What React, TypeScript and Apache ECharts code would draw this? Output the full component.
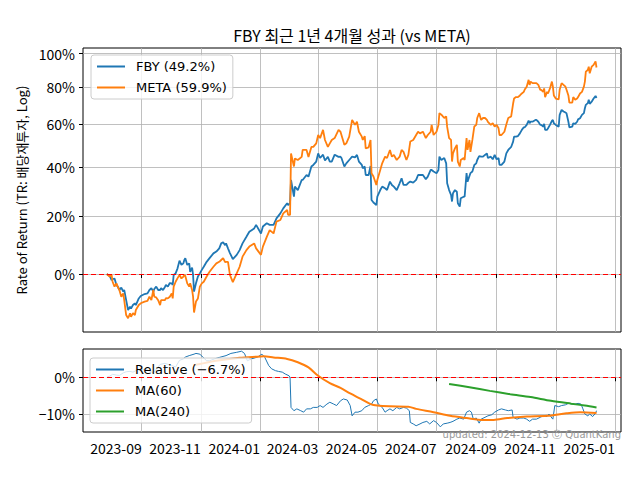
import React, { useEffect, useRef } from 'react';
import * as echarts from 'echarts';

// ---------- DATA ----------
const titleText = 'FBY 최근 1년 4개월 성과 (vs META)';
const yAxisTitle = 'Rate of Return (TR: 배당재투자, Log)';
const footerText = 'updated: 2024-12-13 ⓒ QuantKang';
const fbyName = 'FBY (49.2%)';
const metaName = 'META (59.9%)';
const relName = 'Relative (−6.7%)';
const ma60Name = 'MA(60)';
const ma240Name = 'MA(240)';

const xTickLabels = ['2023-09', '2023-11', '2024-01', '2024-03', '2024-05', '2024-07', '2024-09', '2024-11', '2025-01'];
const topTickPct = [0, 20, 40, 60, 80, 100];
const bottomTickPct = [-10, 0];

const dates = [
  '2023-07-27','2023-07-30','2023-08-01','2023-08-02','2023-08-04','2023-08-06','2023-08-08','2023-08-09','2023-08-11','2023-08-13',
  '2023-08-14','2023-08-16','2023-08-18','2023-08-20','2023-08-21','2023-08-23','2023-08-25','2023-08-26','2023-08-29','2023-08-31',
  '2023-09-04','2023-09-07','2023-09-09','2023-09-11','2023-09-13','2023-09-14','2023-09-16','2023-09-18','2023-09-20','2023-09-21',
  '2023-09-23','2023-09-25','2023-09-26','2023-09-28','2023-09-30','2023-10-02','2023-10-03','2023-10-04','2023-10-06','2023-10-08',
  '2023-10-10','2023-10-12','2023-10-14','2023-10-15','2023-10-16','2023-10-18','2023-10-20','2023-10-21','2023-10-23','2023-10-24',
  '2023-10-25','2023-10-27','2023-10-29','2023-10-31','2023-11-02','2023-11-04','2023-11-07','2023-11-10','2023-11-14','2023-11-17',
  '2023-11-20','2023-11-22','2023-11-24','2023-11-26','2023-11-27','2023-11-29','2023-12-01','2023-12-04','2023-12-08','2023-12-11',
  '2023-12-14','2023-12-18','2023-12-21','2023-12-26','2023-12-28','2024-01-02','2024-01-04','2024-01-08','2024-01-11','2024-01-15',
  '2024-01-18','2024-01-22','2024-01-25','2024-01-29','2024-01-30','2024-02-01','2024-02-02','2024-02-05','2024-02-06','2024-02-09',
  '2024-02-13','2024-02-14','2024-02-18','2024-02-20','2024-02-23','2024-02-25','2024-02-28','2024-03-01','2024-03-03','2024-03-06',
  '2024-03-08','2024-03-11','2024-03-13','2024-03-15','2024-03-18','2024-03-22','2024-03-24','2024-03-25','2024-03-28','2024-03-30',
  '2024-04-02','2024-04-05','2024-04-08','2024-04-10','2024-04-12','2024-04-15','2024-04-16','2024-04-18','2024-04-19','2024-04-22',
  '2024-04-24','2024-04-25','2024-04-27','2024-04-30','2024-05-01','2024-05-04','2024-05-06','2024-05-09','2024-05-11','2024-05-14',
  '2024-05-16','2024-05-18','2024-05-21','2024-05-24','2024-05-26','2024-05-28','2024-05-31','2024-06-02','2024-06-04','2024-06-07',
  '2024-06-10','2024-06-12','2024-06-14','2024-06-17','2024-06-20','2024-06-22','2024-06-25','2024-06-26','2024-06-28','2024-07-01',
  '2024-07-03','2024-07-04','2024-07-06','2024-07-09','2024-07-11','2024-07-12','2024-07-14','2024-07-16','2024-07-17','2024-07-18',
  '2024-07-20','2024-07-22','2024-07-23','2024-07-25','2024-07-26','2024-07-29','2024-07-30','2024-08-01','2024-08-02','2024-08-04',
  '2024-08-05','2024-08-07','2024-08-09','2024-08-11','2024-08-12','2024-08-14','2024-08-16','2024-08-18','2024-08-20','2024-08-22',
  '2024-08-23','2024-08-26','2024-08-28','2024-08-30','2024-09-01','2024-09-03','2024-09-04','2024-09-06','2024-09-09','2024-09-11',
  '2024-09-13','2024-09-16','2024-09-18','2024-09-19','2024-09-21','2024-09-23','2024-09-25','2024-09-27','2024-09-29','2024-09-30',
  '2024-10-02','2024-10-04','2024-10-05','2024-10-06','2024-10-08','2024-10-11','2024-10-12','2024-10-14','2024-10-16','2024-10-17',
  '2024-10-19','2024-10-20','2024-10-21','2024-10-23','2024-10-24','2024-10-26','2024-10-28','2024-10-29','2024-10-30','2024-11-01',
  '2024-11-04','2024-11-05','2024-11-07','2024-11-09','2024-11-11','2024-11-12','2024-11-14','2024-11-15','2024-11-18','2024-11-19',
  '2024-11-21','2024-11-23','2024-11-24','2024-11-26','2024-11-28','2024-11-30','2024-12-01','2024-12-02','2024-12-04','2024-12-05',
  '2024-12-06','2024-12-08','2024-12-10','2024-12-12','2024-12-13'
];

const fbyReturn = [
  0,-0.6,-1.9,-1.6,-1.4,-3.4,-4.2,-4.9,-4.2,-5.4,
  -4.9,-7.9,-10.7,-9.8,-10.3,-9.3,-8.8,-9.3,-7.4,-6.7,
  -6.1,-5.9,-4.9,-4.4,-5.4,-4.6,-3.9,-4.9,-4.9,-4.4,
  -4.9,-4.0,-3.4,-3.9,-2.8,-2.9,-3.4,-0.3,0.2,1.8,
  4.3,2.9,3.4,4.5,5.1,2.9,3.4,0.7,2.0,-0.3,
  -5.4,-2.9,-0.8,0.2,1.3,2.3,3.9,5.1,6.7,7.3,
  8.4,10.1,10.5,9.5,10.1,8.4,6.8,4.8,6.2,7.8,
  10.1,12.4,14.2,15.4,16.7,13.6,16.1,17.3,16.7,16.7,
  19.1,21.0,22.9,24.9,24.2,25.0,34.4,27.5,31.6,30.2,
  34.4,34.4,36.5,35.8,40.2,40.9,42.4,46.1,44.0,45.5,
  42.9,44.5,42.4,42.4,45.5,44.5,44.6,44.0,40.2,41.6,
  43.1,44.6,44.3,45.4,42.4,40.9,39.4,40.2,36.5,36.5,
  40.4,26.2,25.2,24.2,27.5,30.2,31.6,30.9,30.2,33.7,
  32.3,31.6,30.2,33.0,35.1,32.3,32.3,33.2,33.7,33.3,
  34.4,36.5,36.5,36.5,34.7,35.8,38.7,38.7,38.0,37.3,
  38.7,44.6,43.1,44.0,41.6,33.0,30.2,28.2,25.6,28.9,
  30.2,29.5,24.9,23.6,26.9,27.5,27.5,37.3,33.7,36.1,
  37.3,38.0,40.9,41.6,43.1,44.9,44.6,44.6,45.4,46.1,
  44.0,44.6,43.4,45.4,43.4,44.0,40.9,40.9,42.4,46.1,
  47.7,49.1,51.6,54.0,54.0,54.3,55.6,57.3,58.6,58.6,
  59.8,62.0,60.6,61.4,61.4,62.3,62.3,61.4,59.8,59.8,
  58.9,60.3,57.3,57.3,58.1,59.8,61.8,62.3,60.6,59.8,
  58.9,64.9,67.5,66.7,66.1,65.8,61.4,58.6,58.9,60.6,
  60.3,61.4,62.6,63.2,64.9,65.8,68.4,70.2,71.1,72.9,
  70.7,71.9,73.6,75.0,73.9
];

const metaReturn = [
  0,-0.8,-0.3,-2.4,-3.9,-2.9,-4.4,-4.9,-6.9,-5.9,
  -7.9,-12.1,-13.0,-11.6,-12.6,-11.6,-12.1,-10.7,-9.3,-8.8,
  -8.3,-8.1,-6.9,-7.9,-4.9,-6.9,-7.1,-7.9,-9.3,-7.9,
  -7.9,-7.9,-7.3,-7.4,-6.9,-5.9,-7.4,-3.9,-2.4,-1.3,
  -0.3,-1.4,-0.8,-0.3,-0.6,-2.9,-3.9,-2.9,-4.9,-6.9,
  -11.4,-8.3,-7.4,-3.9,-2.9,-2.4,-0.8,0.7,2.3,3.4,
  3.9,4.5,5.1,3.8,3.9,3.9,-0.3,-2.5,0.2,2.3,
  5.6,7.8,9.0,10.1,8.4,6.2,9.0,12.4,14.8,13.6,
  17.9,18.5,21.0,22.3,20.4,20.4,46.1,40.2,43.8,43.1,
  44.5,47.7,47.7,44.5,49.1,49.1,50.8,54.8,53.3,57.3,
  52.4,49.1,50.8,52.4,53.3,57.3,56.4,54.8,50.1,50.8,
  54.0,62.3,59.8,61.4,56.4,54.0,52.4,54.3,48.4,48.9,
  52.4,37.3,35.9,32.3,34.4,38.7,41.6,44.6,44.0,47.7,
  44.6,45.4,43.1,44.6,47.7,46.8,43.1,45.4,51.7,52.4,
  54.8,56.4,55.6,56.4,53.3,54.8,56.4,59.8,54.8,56.4,
  59.8,65.8,65.0,63.3,64.1,58.8,53.3,52.4,42.4,46.1,
  48.4,50.1,42.4,40.2,43.1,44.0,43.1,53.3,47.7,52.4,
  46.8,52.4,59.0,59.8,63.3,65.8,62.3,63.3,63.3,62.3,
  61.3,59.8,60.6,59.0,59.8,58.1,54.8,54.8,56.4,60.0,
  63.3,64.1,70.9,73.6,74.4,74.4,75.3,76.4,77.3,78.6,
  80.2,84.1,81.2,83.1,82.2,82.2,82.2,81.2,78.4,78.4,
  77.3,79.2,74.4,77.3,76.4,79.2,83.1,80.2,75.3,73.6,
  73.1,78.4,82.2,81.2,80.2,78.6,75.3,71.4,71.4,74.4,
  72.9,73.6,74.4,76.4,77.3,80.2,83.1,88.9,89.9,91.9,
  87.9,91.9,93.0,95.1,91.4
];

const relDates = [
  '2023-07-27','2023-07-30','2023-08-02','2023-08-06','2023-08-09','2023-08-13','2023-08-16','2023-08-20','2023-08-23','2023-08-26',
  '2023-08-31','2023-09-07','2023-09-13','2023-09-20','2023-09-25','2023-10-02','2023-10-06','2023-10-10','2023-10-14','2023-10-16',
  '2023-10-20','2023-10-25','2023-10-27','2023-10-31','2023-11-03','2023-11-07','2023-11-10','2023-11-15','2023-11-20','2023-11-27',
  '2023-12-02','2023-12-08','2023-12-13','2023-12-16','2023-12-19','2023-12-23','2023-12-27','2023-12-30','2024-01-03','2024-01-06',
  '2024-01-10','2024-01-13','2024-01-17','2024-01-20','2024-01-24','2024-01-27','2024-01-31','2024-02-01','2024-02-02','2024-02-05',
  '2024-02-08','2024-02-12','2024-02-15','2024-02-18','2024-02-22','2024-02-25','2024-02-29','2024-03-03','2024-03-06','2024-03-10',
  '2024-03-13','2024-03-17','2024-03-20','2024-03-24','2024-03-27','2024-03-31','2024-04-03','2024-04-05','2024-04-08','2024-04-11',
  '2024-04-15','2024-04-18','2024-04-22','2024-04-25','2024-04-27','2024-04-30','2024-05-02','2024-05-06','2024-05-09','2024-05-11',
  '2024-05-14','2024-05-17','2024-05-21','2024-05-24','2024-05-28','2024-05-31','2024-06-03','2024-06-04','2024-06-07','2024-06-10',
  '2024-06-14','2024-06-17','2024-06-21','2024-06-24','2024-06-28','2024-07-01','2024-07-05','2024-07-08','2024-07-12','2024-07-15',
  '2024-07-18','2024-07-22','2024-07-25','2024-07-29','2024-08-01','2024-08-04','2024-08-06','2024-08-08','2024-08-11','2024-08-14',
  '2024-08-16','2024-08-20','2024-08-23','2024-08-27','2024-08-30','2024-09-03','2024-09-06','2024-09-10','2024-09-13','2024-09-17',
  '2024-09-18','2024-09-22','2024-09-25','2024-09-29','2024-10-02','2024-10-05','2024-10-08','2024-10-12','2024-10-16','2024-10-19',
  '2024-10-23','2024-10-25','2024-10-28','2024-10-29','2024-10-31','2024-11-04','2024-11-07','2024-11-11','2024-11-14','2024-11-18',
  '2024-11-21','2024-11-24','2024-11-27','2024-11-29','2024-12-01','2024-12-04','2024-12-06','2024-12-09','2024-12-12','2024-12-13'
];

const relative = [
  0,0.3,0.8,0.6,0.5,1.2,1.5,1.6,1.4,1.8,
  2.2,2.0,1.2,3.5,3.8,3.2,2.8,4.6,5.0,5.5,
  5.9,6.3,6.5,6.3,5.5,4.5,4.5,5.0,5.4,5.9,
  6.5,6.8,7.1,6.5,4.5,5.0,5.3,5.6,6.3,5.4,
  3.2,2.3,1.8,1.6,1.4,0.9,0.4,0.0,-8.2,-9.1,
  -8.6,-9.1,-9.5,-8.6,-8.6,-8.2,-8.2,-7.7,-8.2,-7.3,
  -6.8,-7.3,-7.7,-6.4,-5.9,-6.2,-7.7,-10.5,-9.5,-9.5,
  -9.1,-8.2,-7.7,-7.3,-6.4,-5.9,-7.3,-8.2,-9.5,-9.1,
  -8.6,-9.1,-8.2,-8.6,-8.2,-8.4,-9.1,-12.3,-12.7,-13.2,
  -12.7,-12.3,-12.0,-12.7,-11.8,-12.3,-13.5,-12.7,-12.5,-12.3,
  -12.0,-11.4,-11.1,-11.4,-9.5,-9.1,-9.5,-11.4,-11.1,-12.5,
  -11.4,-10.9,-10.5,-10.2,-9.5,-8.9,-8.6,-8.9,-9.1,-8.9,
  -10.9,-11.4,-11.1,-11.1,-11.4,-12.0,-11.4,-11.4,-10.9,-10.5,
  -10.7,-10.0,-11.1,-11.4,-7.7,-8.0,-7.7,-7.5,-7.1,-7.3,
  -7.3,-7.1,-7.3,-8.6,-10.0,-10.5,-10.0,-10.7,-9.8,-9.1
];

const ma60Dates = [
  '2023-10-24','2023-10-31','2023-11-17','2023-12-11','2023-12-28','2024-01-05','2024-01-15','2024-01-29','2024-02-09','2024-02-20',
  '2024-03-01','2024-03-13','2024-03-24','2024-04-03','2024-04-14','2024-04-24','2024-05-01','2024-05-14','2024-06-02','2024-06-10',
  '2024-06-28','2024-07-15','2024-08-01','2024-08-18','2024-08-29','2024-09-12','2024-10-02','2024-10-23','2024-11-12','2024-11-26',
  '2024-12-13'
];
const ma60 = [
  3.2,3.6,4.5,5.3,5.6,5.7,5.4,5.0,4.1,2.7,
  0.4,-1.6,-2.9,-4.4,-5.9,-7.3,-7.7,-7.9,-8.0,-8.6,
  -9.5,-10.5,-11.1,-11.6,-11.6,-11.1,-10.7,-10.5,-9.8,-9.5,
  -9.7
];

const ma240Dates = ['2024-07-14','2024-08-04','2024-08-25','2024-09-15','2024-10-06','2024-10-27','2024-11-17','2024-12-01','2024-12-13'];
const ma240 = [-1.8,-2.7,-3.7,-4.6,-5.4,-6.4,-7.2,-7.7,-8.2];

// ---------- HELPERS ----------
const ts = (s: string) => {
  const [y, m, d] = s.split('-').map(Number);
  return new Date(y, m - 1, d || 1).getTime();
};
const toLog = (p: number) => Math.log(1 + p / 100);

const CJK = '"Noto Sans CJK KR", sans-serif';
const LAT = '"DejaVu Sans", sans-serif';

export default function App() {
  const ref = useRef<HTMLDivElement>(null);

  useEffect(() => {
    if (!ref.current) return;
    const chart = echarts.init(ref.current, null, { renderer: 'svg' });

    const xTicks = xTickLabels.map((l) => ts(l + '-01'));
    const xMin = new Date(2023, 6, 2, 12).getTime();
    const xMax = new Date(2025, 0, 7, 6).getTime();
    const topTicks = topTickPct.map(toLog);

    const zeroLine = {
      silent: true,
      symbol: 'none',
      label: { show: false },
      lineStyle: { color: '#ff0000', type: [5, 3], width: 1.2 },
      emphasis: { disabled: true },
      data: [{ yAxis: 0 }],
    };

    const gridLine = { show: true, lineStyle: { color: '#b0b0b0', width: 0.8 } };
    const tickStyle = { show: true, length: 4, lineStyle: { color: '#000', width: 1 } };
    const fmtMonth = (v: number) => {
      const d = new Date(v);
      return d.getFullYear() + '-' + String(d.getMonth() + 1).padStart(2, '0');
    };
    const legendBase = {
      orient: 'vertical',
      itemWidth: 28, itemHeight: 14, itemGap: 8, padding: [5, 6, 5, 5],
      backgroundColor: 'rgba(255,255,255,0.8)', borderColor: '#cccccc', borderWidth: 1, borderRadius: 3,
      itemStyle: { opacity: 0 },
      textStyle: { fontFamily: LAT, fontSize: 13, color: '#000', padding: [0, 0, 0, 6] },
      selectedMode: false,
    };

    const option: any = {
      animation: false,
      grid: [
        { left: 83, right: 19, top: 48, height: 284, show: true, borderColor: '#000', borderWidth: 1, backgroundColor: 'transparent' },
        { left: 83, right: 19, top: 349, height: 83, show: true, borderColor: '#000', borderWidth: 1, backgroundColor: 'transparent' },
      ],
      xAxis: [
        {
          type: 'value', gridIndex: 0, min: xMin, max: xMax, scale: true,
          axisLine: { show: false },
          axisTick: { ...tickStyle, customValues: xTicks },
          axisLabel: { show: false, customValues: xTicks, formatter: fmtMonth },
          splitLine: gridLine,
        },
        {
          type: 'value', gridIndex: 1, min: xMin, max: xMax, scale: true,
          axisLine: { show: false },
          axisTick: { ...tickStyle, customValues: xTicks },
          axisLabel: {
            show: true, customValues: xTicks, align: 'right', margin: 9,
            fontFamily: CJK, fontSize: 14, color: '#000',
            formatter: fmtMonth,
          },
          splitLine: gridLine,
        },
      ],
      yAxis: [
        {
          type: 'value', gridIndex: 0, min: toLog(-16.67), max: toLog(103.5),
          axisLine: { show: false },
          axisTick: { ...tickStyle, customValues: topTicks },
          axisLabel: {
            customValues: topTicks, margin: 8, fontFamily: CJK, fontSize: 14, color: '#000',
            formatter: (v: number) => Math.round((Math.exp(v) - 1) * 100) + '%',
          },
          splitLine: gridLine,
          name: yAxisTitle, nameLocation: 'middle', nameGap: 53, nameRotate: 90,
          nameTextStyle: { fontFamily: CJK, fontSize: 13, color: '#000' },
        },
        {
          type: 'value', gridIndex: 1, min: -14.9, max: 7.7,
          axisLine: { show: false },
          axisTick: { ...tickStyle, customValues: bottomTickPct },
          axisLabel: {
            customValues: bottomTickPct, margin: 8, fontFamily: CJK, fontSize: 14, color: '#000',
            formatter: (v: number) => (v < 0 ? '−' : '') + Math.abs(Math.round(v)) + '%',
          },
          splitLine: gridLine,
        },
      ],
      legend: [
        { ...legendBase, data: [fbyName, metaName], left: 91, top: 55 },
        { ...legendBase, data: [relName, ma60Name, ma240Name], left: 90, top: 358 },
      ],
      series: [
        {
          name: fbyName, type: 'line', xAxisIndex: 0, yAxisIndex: 0, symbol: 'none',
          color: '#1f77b4', lineStyle: { color: '#1f77b4', width: 1.8 },
          data: dates.map((d, i) => [ts(d), toLog(fbyReturn[i])]),
          markLine: zeroLine, z: 3,
        },
        {
          name: metaName, type: 'line', xAxisIndex: 0, yAxisIndex: 0, symbol: 'none',
          color: '#ff7f0e', lineStyle: { color: '#ff7f0e', width: 1.8 },
          data: dates.map((d, i) => [ts(d), toLog(metaReturn[i])]), z: 3,
        },
        {
          name: relName, type: 'line', xAxisIndex: 1, yAxisIndex: 1, symbol: 'none',
          color: '#1f77b4', lineStyle: { color: '#1f77b4', width: 1 },
          data: relDates.map((d, i) => [ts(d), relative[i]]),
          markLine: zeroLine, z: 3,
        },
        {
          name: ma60Name, type: 'line', xAxisIndex: 1, yAxisIndex: 1, symbol: 'none', smooth: 0.3,
          color: '#ff7f0e', lineStyle: { color: '#ff7f0e', width: 2 },
          data: ma60Dates.map((d, i) => [ts(d), ma60[i]]), z: 3,
        },
        {
          name: ma240Name, type: 'line', xAxisIndex: 1, yAxisIndex: 1, symbol: 'none', smooth: 0.3,
          color: '#2ca02c', lineStyle: { color: '#2ca02c', width: 2 },
          data: ma240Dates.map((d, i) => [ts(d), ma240[i]]), z: 3,
        },
      ],
      graphic: [
        {
          type: 'text', x: 352, y: 35, z: 10,
          style: { text: titleText, font: '16px "Noto Sans CJK KR", sans-serif', fill: '#000', align: 'center', verticalAlign: 'middle' },
        },
        {
          type: 'text', x: 621, y: 434, z: 10,
          style: { text: footerText, font: '10px "DejaVu Sans", sans-serif', fill: '#999999', align: 'right', verticalAlign: 'middle' },
        },
      ],
    };

    chart.setOption(option);
    return () => chart.dispose();
  }, []);

  return <div ref={ref} style={{ position: 'absolute', left: 0, top: 0, width: 640, height: 480 }} />;
}
